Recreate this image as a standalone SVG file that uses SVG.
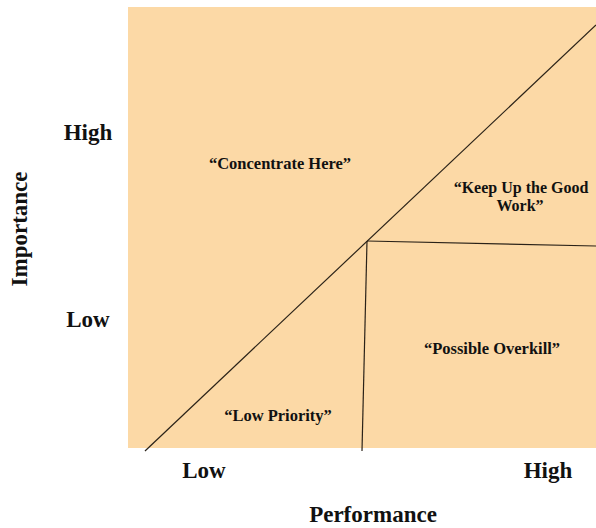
<svg xmlns="http://www.w3.org/2000/svg" width="596" height="528" viewBox="0 0 596 528">
<style>
.ln{stroke:#2a2218;stroke-width:1.2;fill:none;}
</style>
<rect width="596" height="528" fill="#fff"/>
<g id="plot"><rect x="128" y="7" width="468" height="441" fill="#FCD9A6"/></g>
<g id="connectors">
<line class="ln" x1="145" y1="451" x2="596" y2="25"/>
<line class="ln" x1="367" y1="241" x2="362" y2="451"/>
<line class="ln" x1="367" y1="241" x2="596" y2="246"/>
</g>
<g font-family="Liberation Serif, Times New Roman, serif" font-weight="bold" fill="#111" text-anchor="middle" font-size="16.5">
<g id="concentrate"><text x="280" y="169">“Concentrate Here”</text></g>
<g id="keepup" font-size="16"><text x="521" y="193">“Keep Up the Good</text><text x="520" y="211">Work”</text></g>
<g id="overkill"><text x="492" y="354">“Possible Overkill”</text></g>
<g id="lowpriority"><text x="278" y="421">“Low Priority”</text></g>
</g>
<g id="labels" font-family="Liberation Serif, Times New Roman, serif" font-weight="bold" fill="#111" text-anchor="middle" font-size="23">
<text x="88" y="140">High</text>
<text x="88" y="327">Low</text>
<text transform="translate(27,229) rotate(-90)">Importance</text>
<text x="204" y="478">Low</text>
<text x="548" y="478">High</text>
<text x="373" y="522">Performance</text>
</g>
</svg>
